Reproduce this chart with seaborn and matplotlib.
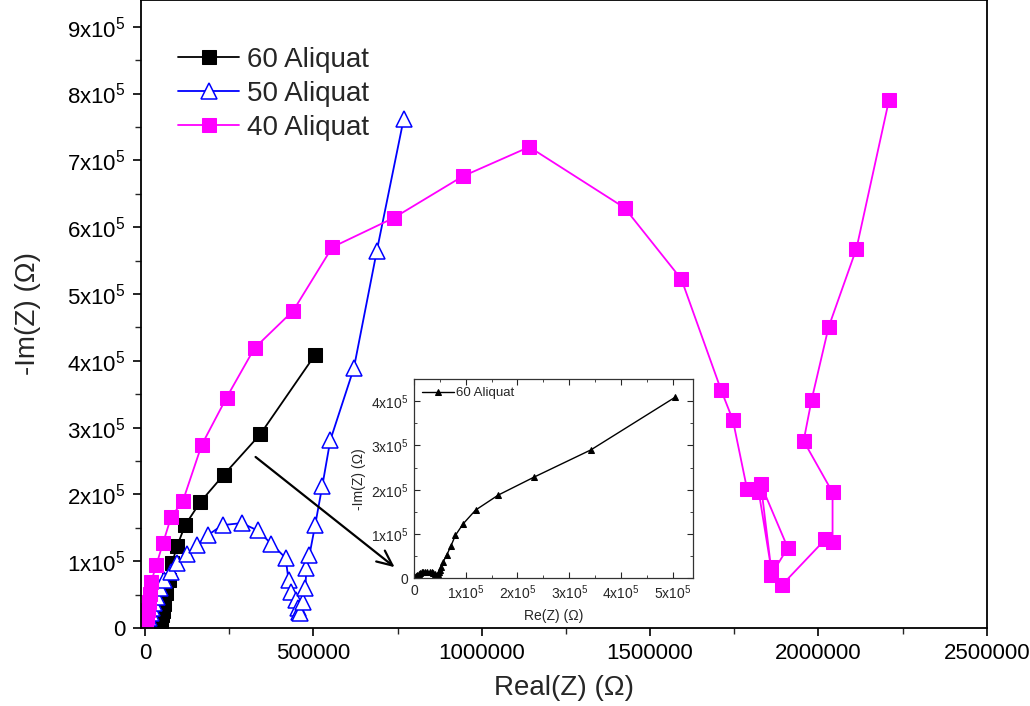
import numpy as np
import pandas as pd
import matplotlib
matplotlib.use("Agg")
import matplotlib.pyplot as plt
from matplotlib.ticker import FuncFormatter, MultipleLocator
import seaborn as sns

sns.set_style("ticks")
plt.rcParams["font.family"] = ["Liberation Sans", "DejaVu Sans"]
plt.rcParams["mathtext.fontset"] = "custom"
plt.rcParams["mathtext.rm"] = "Liberation Sans"
plt.rcParams["mathtext.it"] = "Liberation Sans:italic"
plt.rcParams["mathtext.bf"] = "Liberation Sans:bold"

# Impedance spectra (Nyquist): Re(Z) and -Im(Z) in ohm
re_60 = [2e3, 4e3, 6e3, 9e3, 12e3, 15e3, 18e3, 22e3, 26e3, 30e3, 34e3, 37e3, 40e3, 42e3,
         44e3, 45e3, 46e3, 47e3, 48e3, 50e3, 52e3, 56e3, 63e3, 71e3, 80e3, 95e3, 119e3,
         163e3, 233e3, 342e3, 505e3]
im_60 = [2e3, 5e3, 8e3, 10e3, 12e3, 13.5e3, 14.5e3, 15e3, 15e3, 14.5e3, 13e3, 11e3, 9e3, 6e3,
         3e3, 1e3, 4e3, 9e3, 14e3, 19e3, 26e3, 36e3, 52e3, 72e3, 97e3, 123e3, 154e3,
         188e3, 229e3, 290e3, 409e3]

re_50 = [6e3, 12e3, 18e3, 21e3, 27e3, 35e3, 44e3, 56e3, 77e3, 95e3, 124e3, 154e3, 186e3,
         230e3, 287e3, 334e3, 375e3, 417e3, 426e3, 434e3, 449e3, 455e3, 458e3, 461e3,
         470e3, 476e3, 479e3, 488e3, 505e3, 526e3, 550e3, 620e3, 688e3, 768e3]
im_50 = [7e3, 15e3, 22e3, 30e3, 37e3, 46e3, 60e3, 72e3, 84e3, 97e3, 111e3, 124e3, 139e3,
         154e3, 157e3, 146e3, 126e3, 105e3, 72e3, 54e3, 42e3, 30e3, 24e3, 22e3,
         39e3, 60e3, 90e3, 109e3, 154e3, 212e3, 281e3, 389e3, 564e3, 762e3]

re_40 = [3e3, 6e3, 9e3, 12e3, 15e3, 18e3, 33e3, 53e3, 77e3, 112e3, 168e3, 242e3, 325e3,
         440e3, 556e3, 739e3, 943e3, 1141e3, 1424e3, 1593e3, 1711e3, 1746e3, 1788e3,
         1823e3, 1859e3, 1829e3, 1909e3, 1859e3, 1891e3, 2021e3, 2042e3, 2042e3,
         1956e3, 1980e3, 2030e3, 2113e3, 2210e3]
im_40 = [6e3, 16e3, 27e3, 39e3, 51e3, 69e3, 94e3, 127e3, 166e3, 190e3, 274e3, 345e3, 419e3,
         475e3, 570e3, 614e3, 676e3, 720e3, 629e3, 522e3, 356e3, 311e3, 208e3,
         203e3, 91e3, 215e3, 120e3, 79e3, 64e3, 133e3, 129e3, 203e3,
         280e3, 342e3, 450e3, 568e3, 791e3]

labels = ["60 Aliquat", "50 Aliquat", "40 Aliquat"]
x_ticks = [0, 500000, 1000000, 1500000, 2000000, 2500000]
y_ticks = [0, 1e5, 2e5, 3e5, 4e5, 5e5, 6e5, 7e5, 8e5, 9e5]
inset_x_ticks = [0, 1e5, 2e5, 3e5, 4e5, 5e5]
inset_y_ticks = [0, 1e5, 2e5, 3e5, 4e5]


def sci_label(v, pos=None):
    if abs(v) < 1:
        return "0"
    return r"%dx10$^{5}$" % int(round(v / 1e5))


df60 = pd.DataFrame({"re": re_60, "im": im_60})
df50 = pd.DataFrame({"re": re_50, "im": im_50})
df40 = pd.DataFrame({"re": re_40, "im": im_40})

fig = plt.figure(figsize=(10.3, 7.06), dpi=100)
ax = fig.add_axes([0.137, 0.1105, 0.821, 0.8895])

common = dict(sort=False, estimator=None, ax=ax, linewidth=1.3)
sns.lineplot(data=df60, x="re", y="im", color="black", marker="s", markersize=10,
             markeredgecolor="black", markerfacecolor="black", label=labels[0], **common)
sns.lineplot(data=df50, x="re", y="im", color="#0000ff", marker="^", markersize=12,
             markeredgecolor="#0000ff", markerfacecolor="white", markeredgewidth=1.1,
             label=labels[1], **common)
sns.lineplot(data=df40, x="re", y="im", color="#ff00ff", marker="s", markersize=10,
             markeredgecolor="#ff00ff", markerfacecolor="#ff00ff", label=labels[2], **common)

ax.set_xlim(-12000, 2500000)
ax.set_ylim(0, 9.4e5)
ax.set_xticks(x_ticks)
ax.set_yticks(y_ticks)
ax.xaxis.set_minor_locator(MultipleLocator(250000))
ax.yaxis.set_minor_locator(MultipleLocator(50000))
ax.xaxis.set_major_formatter(FuncFormatter(lambda v, p: "%d" % int(round(v))))
ax.yaxis.set_major_formatter(FuncFormatter(sci_label))
ax.tick_params(axis="both", which="major", direction="out", length=6, width=1.2,
               labelsize=16, colors="black", pad=5)
ax.tick_params(axis="both", which="minor", direction="out", length=4, width=1.0)
for s in ax.spines.values():
    s.set_linewidth(1.3)
    s.set_color("black")

ax.set_xlabel("Real(Z) (\u03a9)", fontsize=20, labelpad=8)
ax.set_ylabel("-Im(Z) (\u03a9)", fontsize=20, labelpad=19)

leg = ax.legend(loc="upper left", bbox_to_anchor=(178 / 1030, 1 - 47 / 706),
                bbox_transform=fig.transFigure, frameon=False, fontsize=20,
                handlelength=2.2, handletextpad=0.3, labelspacing=0.28, borderpad=0,
                borderaxespad=0)

# pointer from the 60 Aliquat curve to the inset
ax.annotate("", xy=(741000, 0.91e5), xytext=(328000, 2.56e5),
            arrowprops=dict(arrowstyle="->,head_length=1.1,head_width=0.5",
                            color="black", lw=1.6, shrinkA=0, shrinkB=0))

# inset: 60 Aliquat on its own scale
axi = fig.add_axes([0.402, 0.181, 0.271, 0.282])
sns.lineplot(data=df60, x="re", y="im", color="black", marker="^", markersize=5,
             markeredgecolor="black", markerfacecolor="black", linewidth=1.0,
             sort=False, estimator=None, ax=axi, label=labels[0])
axi.set_xlim(0, 5.4e5)
axi.set_ylim(0, 4.5e5)
axi.set_xticks(inset_x_ticks)
axi.set_yticks(inset_y_ticks)
axi.xaxis.set_minor_locator(MultipleLocator(50000))
axi.yaxis.set_minor_locator(MultipleLocator(50000))
axi.xaxis.set_major_formatter(FuncFormatter(sci_label))
axi.yaxis.set_major_formatter(FuncFormatter(sci_label))
axi.tick_params(axis="both", which="major", direction="in", length=4, width=0.8,
                labelsize=10, top=True, right=True, pad=4)
axi.tick_params(axis="both", which="minor", direction="in", length=2, width=0.6,
                top=True, right=True)
for s in axi.spines.values():
    s.set_linewidth(0.9)
    s.set_color("#333333")
axi.set_xlabel("Re(Z) (\u03a9)", fontsize=10, labelpad=5)
axi.set_ylabel("-Im(Z) (\u03a9)", fontsize=10, labelpad=4)
axi.legend(loc="upper left", frameon=False, fontsize=9.5, handlelength=2.4,
           handletextpad=0.2, borderpad=0.3, borderaxespad=0.3)

fig.savefig("out.png", dpi=100)
